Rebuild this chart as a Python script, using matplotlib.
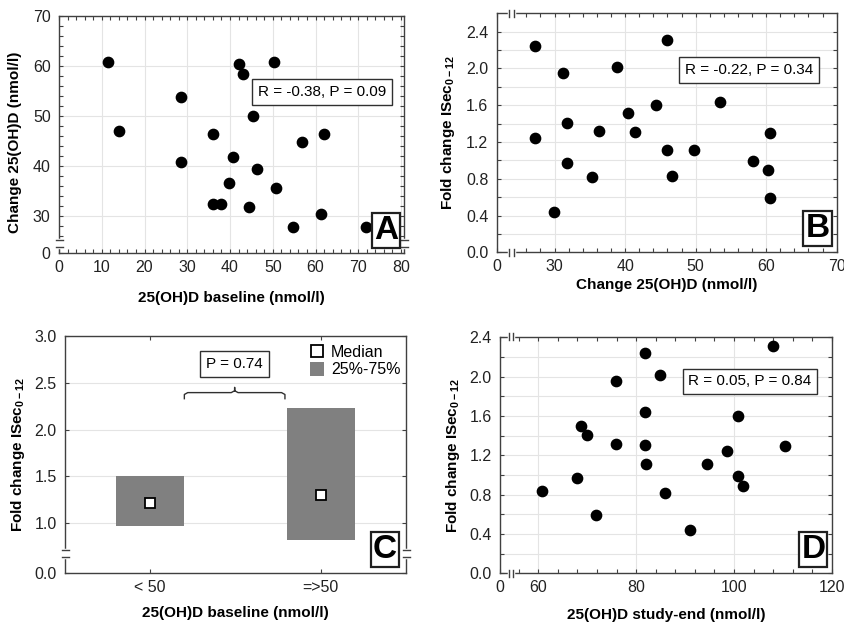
import numpy as np
import matplotlib
matplotlib.use('Agg')
import matplotlib.pyplot as plt
from matplotlib.lines import Line2D
from matplotlib.patches import Patch

plt.rcParams['font.family'] = 'Liberation Sans'
plt.rcParams['mathtext.fontset'] = 'custom'
plt.rcParams['mathtext.rm'] = 'Liberation Sans'
plt.rcParams['mathtext.bf'] = 'Liberation Sans:bold'

# ---------------------------------------------------------------------------
# Data
# ---------------------------------------------------------------------------
# A: baseline vs change
a_baseline = [11.4, 14.1, 28.5, 28.5, 36.1, 36.1, 38.0, 39.7, 40.7, 42.1, 43.1,
              44.5, 45.3, 46.2, 50.4, 50.7, 54.7, 56.8, 61.2, 62.1, 71.7]
a_change = [60.7, 47.0, 53.7, 40.7, 46.3, 32.3, 32.3, 36.6, 41.7, 60.3, 58.3,
            31.7, 50.0, 39.3, 60.7, 35.6, 27.7, 44.7, 30.3, 46.3, 27.7]

# B: change vs fold change
b_change = [27.2, 27.2, 29.9, 31.2, 31.8, 31.8, 35.3, 36.3, 38.9, 40.4, 41.4,
            44.4, 46.0, 46.0, 46.7, 49.7, 53.5, 58.1, 60.2, 60.6, 60.6]
b_fold = [2.24, 1.24, 0.44, 1.95, 1.41, 0.97, 0.82, 1.32, 2.02, 1.51, 1.31,
          1.60, 2.31, 1.11, 0.83, 1.11, 1.64, 0.99, 0.89, 1.30, 0.59]

# C: median / quartiles by baseline group
c_groups = ['< 50', '=>50']
c_q1 = [0.97, 0.82]
c_q3 = [1.50, 2.23]
c_median = [1.21, 1.30]

# D: study-end vs fold change
d_end = [60.8, 68.0, 68.8, 70.0, 71.9, 75.9, 75.9, 81.8, 81.8, 81.8, 82.0,
         84.9, 85.8, 90.9, 94.5, 98.6, 100.8, 100.9, 101.8, 107.9, 110.5]
d_fold = [0.84, 0.97, 1.50, 1.41, 0.59, 1.96, 1.32, 2.24, 1.64, 1.31, 1.11,
          2.02, 0.82, 0.44, 1.11, 1.24, 1.60, 0.99, 0.89, 2.31, 1.30]

SPINE = '#404040'
GRID = '#e4e4e4'
FS = 11
TICK_FS = 11.5
W, H = 844, 626
FOLD_LABEL = r'Fold change ISec$_{\mathbf{0-12}}$'


def broken(t0, brk):
    """Axis scale: 0 is drawn at t0, values >= brk are drawn as themselves."""
    def fwd(v):
        v = np.asarray(v, float)
        return np.where(v >= brk, v, np.minimum(t0 + v, brk))

    def inv(t):
        t = np.asarray(t, float)
        return np.where(t >= brk, t, t - t0)
    return fwd, inv


def add_axes(px):
    left, top, right, bottom = px
    ax = fig.add_axes([left / W, 1 - bottom / H, (right - left) / W, (bottom - top) / H])
    for s in ax.spines.values():
        s.set_color(SPINE)
        s.set_linewidth(1.0)
    ax.tick_params(which='both', direction='in', top=True, right=True,
                   length=3, width=0.8, color=SPINE, labelsize=TICK_FS,
                   labelcolor='#222222')
    ax.tick_params(axis='x', pad=5)
    ax.tick_params(axis='y', pad=6)
    ax.set_axisbelow(True)
    return ax


def break_marks(ax, axis, f_lo, f_hi, px_len):
    d = 3.5 / px_len
    for e in (0, 1):
        if axis == 'y':
            ax.plot([e, e], [f_lo, f_hi], transform=ax.transAxes, color='white',
                    lw=2.5, clip_on=False, zorder=5)
            for f in (f_lo, f_hi):
                ax.plot([e - d, e + d], [f, f], transform=ax.transAxes,
                        color=SPINE, lw=1, clip_on=False, zorder=6)
        else:
            ax.plot([f_lo, f_hi], [e, e], transform=ax.transAxes, color='white',
                    lw=2.5, clip_on=False, zorder=5)
            for f in (f_lo, f_hi):
                ax.plot([f, f], [e - d, e + d], transform=ax.transAxes,
                        color=SPINE, lw=1, clip_on=False, zorder=6)


def letter(ax, s, x, y):
    ax.text(x, y, s, transform=ax.transAxes, fontsize=24, fontweight='bold',
            ha='center', va='center', zorder=7,
            bbox=dict(boxstyle='square,pad=0.06', fc='white', ec='#202020', lw=1.6))


def stat_box(ax, s, x, y, coords='axes'):
    tr = ax.transAxes if coords == 'axes' else ax.transData
    ax.text(x, y, s, transform=tr, fontsize=FS, ha='center', va='center', zorder=7,
            bbox=dict(boxstyle='square,pad=0.38', fc='white', ec='#303030', lw=1.0))


def labels(ax, xl, yl, xy, yx, ylab_y=0.5):
    ax.set_xlabel(xl, fontsize=FS, fontweight='bold', va='center')
    ax.set_ylabel(yl, fontsize=FS, fontweight='bold', va='center')
    ax.xaxis.set_label_coords(0.5, xy)
    ax.yaxis.set_label_coords(yx, ylab_y)


fig = plt.figure(figsize=(W / 100, H / 100), dpi=100)

# ── A ───────────────────────────────────────────────────────────────────────
axA = add_axes((59, 15.7, 404, 253.3))
axA.set_yscale('function', functions=broken(22.5, 24.5))
axA.set_xlim(0, 80.7)
axA.set_ylim(0, 70)
axA.set_xticks([0, 10, 20, 30, 40, 50, 60, 70, 80])
axA.set_xticks([v for v in np.arange(2, 81, 2) if v % 10], minor=True)
axA.set_yticks([0, 30, 40, 50, 60, 70])
axA.set_yticks([v for v in np.arange(26, 70, 2) if v % 10], minor=True)
axA.grid(True, which='major', color=GRID, lw=0.8)
axA.scatter(a_baseline, a_change, s=55, color='black', zorder=4)
break_marks(axA, 'y', 1.3 / 47.5, 2.6 / 47.5, 345)
stat_box(axA, 'R = -0.38, P = 0.09', 0.762, 0.678)
letter(axA, 'A', 0.948, 0.096)
labels(axA, '25(OH)D baseline (nmol/l)', 'Change 25(OH)D (nmol/l)', -0.188,
       -0.1275, ylab_y=0.466)

# ── B ───────────────────────────────────────────────────────────────────────
axB = add_axes((496.7, 13.3, 836.7, 252.3))
axB.set_xscale('function', functions=broken(21.8, 24.0))
axB.set_xlim(0, 70)
axB.set_ylim(0, 2.6)
axB.set_xticks([0, 30, 40, 50, 60, 70])
axB.set_xticks([v for v in np.arange(26, 70, 2) if v % 10], minor=True)
axB.set_yticks([0.0, 0.4, 0.8, 1.2, 1.6, 2.0, 2.4])
axB.set_yticks([0.2, 0.6, 1.0, 1.4, 1.8, 2.2], minor=True)
axB.set_yticklabels(['0.0', '0.4', '0.8', '1.2', '1.6', '2.0', '2.4'])
axB.xaxis.grid(True, which='major', color=GRID, lw=0.8)
axB.yaxis.grid(True, which='both', color=GRID, lw=0.8)
axB.scatter(b_change, b_fold, s=55, color='black', zorder=4)
break_marks(axB, 'x', 1.75 / 48.2, 2.45 / 48.2, 239)
stat_box(axB, 'R = -0.22, P = 0.34', 0.742, 0.762)
letter(axB, 'B', 0.9435, 0.0975)
labels(axB, 'Change 25(OH)D (nmol/l)', FOLD_LABEL, -0.137, -0.143)

# ── C ───────────────────────────────────────────────────────────────────────
axC = add_axes((65, 336, 406, 573.3))
axC.set_yscale('function', functions=broken(0.464, 0.68))
axC.set_xlim(-0.5, 1.5)
axC.set_ylim(0, 3.0)
cx = np.arange(len(c_groups))
axC.set_xticks(cx)
axC.set_xticklabels(c_groups)
axC.set_yticks([0.0, 1.0, 1.5, 2.0, 2.5, 3.0])
axC.set_yticklabels(['0.0', '1.0', '1.5', '2.0', '2.5', '3.0'])
axC.yaxis.grid(True, which='major', color=GRID, lw=0.8)
axC.bar(cx, np.subtract(c_q3, c_q1), bottom=c_q1, width=0.4, color='#808080',
        zorder=3)
axC.plot(cx, c_median, ls='none', marker='s', ms=7.5, mfc='white', mec='black',
         mew=1.3, zorder=4)
break_marks(axC, 'y', (0.643 - 0.464) / 2.536, (0.714 - 0.464) / 2.536, 341)

# bracket between the groups
bx0, bx1, bxm = 0.2, 0.79, 0.495
by0, by1, byp = 2.33, 2.395, 2.45
r = 0.02
bracket_x = [bx0, bx0, bx0 + r, bxm - r, bxm, bxm, bxm, bxm + r, bx1 - r, bx1, bx1]
bracket_y = [by0, by1 - 0.02, by1, by1, by1 + 0.02, byp, by1 + 0.02, by1, by1,
             by1 - 0.02, by0]
axC.plot(bracket_x, bracket_y, color='#303030', lw=1.0, zorder=4)
stat_box(axC, 'P = 0.74', 0.494, 2.70, coords='data')

handles = [Line2D([], [], ls='none', marker='s', ms=8, mfc='white', mec='black',
                  mew=1.3),
           Patch(facecolor='#808080', edgecolor='none')]
axC.legend(handles, ['Median', '25%-75%'], loc='upper left',
           bbox_to_anchor=(0.7, 0.99), frameon=False, fontsize=11.5,
           handlelength=0.9, handleheight=0.9, handletextpad=0.4,
           labelspacing=0.15, borderaxespad=0)
letter(axC, 'C', 0.937, 0.1024)
labels(axC, '25(OH)D baseline (nmol/l)', FOLD_LABEL, -0.167, -0.138)

# ── D ───────────────────────────────────────────────────────────────────────
axD = add_axes((500, 336.5, 832, 573.3))
axD.set_xscale('function', functions=broken(52.2, 54.5))
axD.set_xlim(0, 120)
axD.set_ylim(0, 2.41)
axD.set_xticks([0, 60, 80, 100, 120])
axD.set_xticks([v for v in np.arange(56, 120, 4) if v % 20], minor=True)
axD.set_yticks([0.0, 0.4, 0.8, 1.2, 1.6, 2.0, 2.4])
axD.set_yticks([0.2, 0.6, 1.0, 1.4, 1.8, 2.2], minor=True)
axD.set_yticklabels(['0.0', '0.4', '0.8', '1.2', '1.6', '2.0', '2.4'])
axD.xaxis.grid(True, which='major', color=GRID, lw=0.8)
axD.yaxis.grid(True, which='both', color=GRID, lw=0.8)
axD.scatter(d_end, d_fold, s=55, color='black', zorder=4)
break_marks(axD, 'x', 1.9 / 67.8, 2.7 / 67.8, 237)
stat_box(axD, 'R = 0.05, P = 0.84', 0.753, 0.81)
letter(axD, 'D', 0.944, 0.1005)
labels(axD, '25(OH)D study-end (nmol/l)', FOLD_LABEL, -0.176, -0.1416)

fig.savefig('out.png', dpi=100)
